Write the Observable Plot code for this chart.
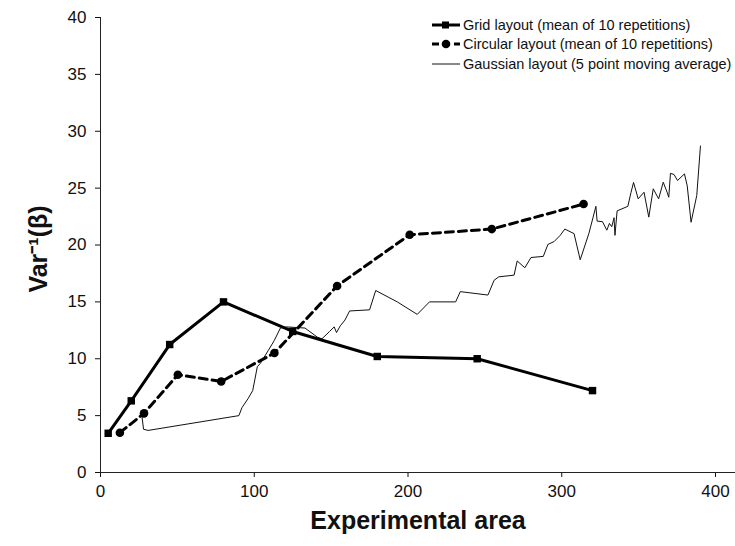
<!DOCTYPE html>
<html>
<head>
<meta charset="utf-8">
<script src="https://cdn.jsdelivr.net/npm/d3@7"></script>
<script src="https://cdn.jsdelivr.net/npm/@observablehq/plot@0.6"></script>
<style>
  html, body { margin: 0; padding: 0; background: #fff; }
  #wrap { position: relative; width: 735px; height: 546px; overflow: hidden; font-family: "Liberation Sans", Arial, sans-serif; }
  #legend { position: absolute; left: 431px; top: 15px; font-size: 14.5px; color: #111; white-space: nowrap; }
  #legend .row { display: flex; align-items: center; height: 19.5px; }
  #legend svg { display: block; margin-right: 2px; }
</style>
</head>
<body>
<div id="wrap"></div>
<script>
// ---- data ----
const gridX = [5, 20, 45, 80, 125, 180, 245, 320];
const gridY = [3.45, 6.3, 11.25, 15.0, 12.4, 10.2, 10.0, 7.2];

const circX = [12.6, 28.3, 50.3, 78.5, 113.1, 153.9, 201.1, 254.5, 314.2];
const circY = [3.5, 5.2, 8.6, 8.0, 10.5, 16.4, 20.9, 21.4, 23.6];

const gaussX = [27, 28, 31, 90, 92, 96, 99, 102, 104, 109, 113, 117, 121, 133, 141, 144, 149, 152, 153.5, 156, 159, 162, 175, 179, 193, 206, 214, 231, 234, 252, 256, 259, 269, 271, 276, 280, 288, 291, 295, 299, 302, 308, 312, 317.6, 320.4, 322.2, 323, 326.5, 329.3, 331, 332.5, 334, 334.6, 336, 343, 345, 346.7, 349.7, 353.5, 356.6, 359.5, 363, 366, 368.5, 369.6, 370.7, 373, 375.3, 379.8, 381.6, 384.1, 387.8, 390.2];
const gaussY = [4.9, 3.8, 3.7, 5.0, 5.7, 6.5, 7.2, 9.3, 9.6, 10.7, 11.6, 12.7, 12.8, 12.7, 11.9, 11.75, 12.4, 12.8, 12.3, 12.9, 13.4, 14.2, 14.3, 16.0, 15.0, 13.9, 15.0, 15.0, 15.9, 15.6, 16.9, 17.2, 17.35, 18.6, 18.0, 18.9, 19.0, 20.05, 20.3, 20.85, 21.4, 21.0, 18.7, 21.0, 22.45, 23.4, 22.1, 22.05, 21.3, 21.9, 21.6, 22.4, 20.85, 23.0, 23.4, 24.6, 25.5, 24.06, 24.64, 22.45, 24.94, 24.06, 25.52, 24.64, 24.2, 26.3, 26.2, 25.67, 26.25, 25.2, 22.0, 24.35, 28.7];

const yTicks = [0, 5, 10, 15, 20, 25, 30, 35, 40];
const xTicks = [0, 100, 200, 300, 400];

const legendLabels = [
  "Grid layout (mean of 10 repetitions)",
  "Circular layout (mean of 10 repetitions)",
  "Gaussian layout (5 point moving average)"
];
const xLabel = "Experimental area";
const yLabel = "Var\u207B\u00B9(\u03B2)";

// ---- tables ----
const grid = gridX.map((x, i) => ({x, y: gridY[i]}));
const circ = circX.map((x, i) => ({x, y: circY[i]}));
const gauss = gaussX.map((x, i) => ({x, y: gaussY[i]}));

const chart = Plot.plot({
  width: 735,
  height: 546,
  marginLeft: 100,
  marginRight: 0,
  marginTop: 17,
  marginBottom: 74,
  style: {fontFamily: "'Liberation Sans', Arial, sans-serif", fontSize: "17px", color: "#111", background: "#fff"},
  x: {domain: [0, 413]},
  y: {domain: [0, 40]},
  marks: [
    Plot.axisX({ticks: xTicks, tickSize: 5, tickPadding: 7, label: null, fontSize: 17}),
    Plot.axisY({ticks: yTicks, tickSize: 5, tickPadding: 9, label: null, fontSize: 17}),
    Plot.ruleX([0], {stroke: "#222", strokeWidth: 1}),
    Plot.ruleY([0], {stroke: "#222", strokeWidth: 1}),
    Plot.line(gauss, {x: "x", y: "y", stroke: "#111", strokeWidth: 1}),
    Plot.line(circ, {x: "x", y: "y", stroke: "#000", strokeWidth: 3, strokeDasharray: "8,5"}),
    Plot.dot(circ, {x: "x", y: "y", r: 4.3, fill: "#000", stroke: "none"}),
    Plot.line(grid, {x: "x", y: "y", stroke: "#000", strokeWidth: 3}),
    Plot.dot(grid, {x: "x", y: "y", r: 4.2, symbol: "square", fill: "#000", stroke: "none"}),
    Plot.text([xLabel], {frameAnchor: "bottom", dy: 56, text: d => d, fontSize: 25, fontWeight: "bold", fill: "#111"}),
    Plot.text([yLabel], {frameAnchor: "left", dx: -62, dy: 4, rotate: -90, textAnchor: "middle", lineAnchor: "middle", text: d => d, fontSize: 25, fontWeight: "bold", fill: "#111"})
  ]
});

const wrap = document.getElementById("wrap");
wrap.appendChild(chart);

// legend
const legend = document.createElement("div");
legend.id = "legend";
const samples = [
  `<svg width="30" height="12"><line x1="1" y1="6" x2="29" y2="6" stroke="#000" stroke-width="3"/><rect x="11" y="2.5" width="7" height="7" fill="#000"/></svg>`,
  `<svg width="30" height="12"><line x1="1" y1="6" x2="29" y2="6" stroke="#000" stroke-width="3" stroke-dasharray="7,4"/><circle cx="15" cy="6" r="4.3" fill="#000"/></svg>`,
  `<svg width="30" height="12"><line x1="1" y1="6" x2="29" y2="6" stroke="#111" stroke-width="1"/></svg>`
];
legendLabels.forEach((lab, i) => {
  const row = document.createElement("div");
  row.className = "row";
  row.innerHTML = samples[i] + `<span>${lab}</span>`;
  legend.appendChild(row);
});
wrap.appendChild(legend);
</script>
</body>
</html>
